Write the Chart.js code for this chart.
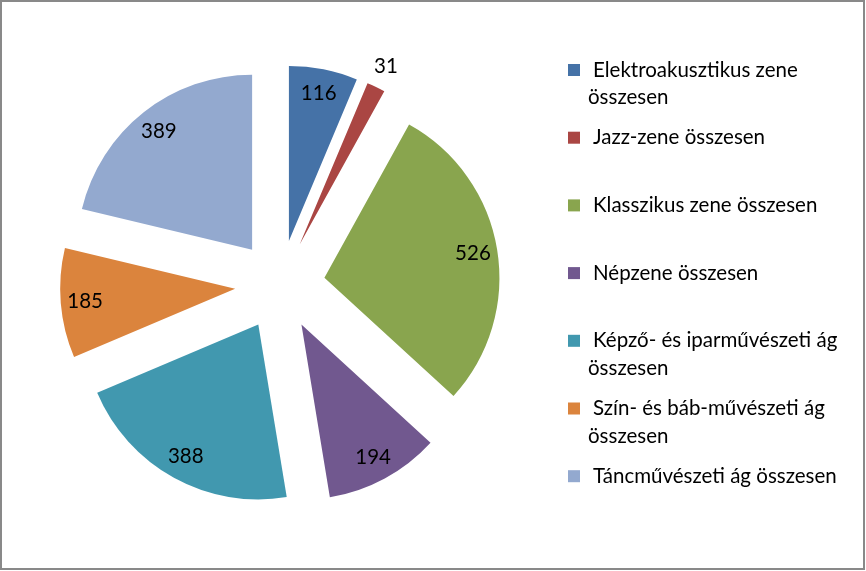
<!DOCTYPE html>
<html>
<head>
<meta charset="utf-8">
<title>Művészeti ágak összesen</title>
<script src="https://cdn.jsdelivr.net/npm/chart.js@4.4.1/dist/chart.umd.min.js"></script>
<style>
  html, body { margin: 0; padding: 0; background: #fff; }
  #wrap { width: 866px; height: 571px; }
</style>
</head>
<body>
<div id="wrap"><canvas id="pieChart" width="866" height="571"></canvas></div>
<script>
// Chart data
const categories = [
    'Elektroakusztikus zene összesen',
    'Jazz-zene összesen',
    'Klasszikus zene összesen',
    'Népzene összesen',
    'Képző- és iparművészeti ág összesen',
    'Szín- és báb-művészeti ág összesen',
    'Táncművészeti ág összesen'
];
const values = [116, 31, 526, 194, 388, 185, 389];
const sliceColors = ['#4572A7', '#AA4643', '#89A54E', '#71588F', '#4198AF', '#DB843D', '#93A9CF'];

// Look
const RADIUS = 175;
const EXPLODE = 45;          // px each slice is pulled out
const FONT = 'Lato, "Open Sans", sans-serif';

// Pull every slice out along its middle angle.
// (Chart.js' own offset also shrinks thin slices, so move the arcs instead)
const explode = {
    id: 'explode',
    beforeDatasetsDraw(chart) {
        const area = chart.chartArea;
        const cx = (area.left + area.right) / 2;
        const cy = (area.top + area.bottom) / 2;
        chart.getDatasetMeta(0).data.forEach(arc => {
            const mid = (arc.startAngle + arc.endAngle) / 2;
            arc.x = cx + Math.cos(mid) * EXPLODE;
            arc.y = cy + Math.sin(mid) * EXPLODE;
        });
    }
};

// Value labels inside the slices (small ones outside)
const valueLabels = {
    id: 'valueLabels',
    afterDatasetsDraw(chart) {
        const ctx = chart.ctx;
        const meta = chart.getDatasetMeta(0);
        const total = values.reduce((a, b) => a + b, 0);
        ctx.save();
        ctx.font = '20.5px ' + FONT;
        ctx.fillStyle = '#000';
        ctx.textAlign = 'center';
        ctx.textBaseline = 'middle';
        meta.data.forEach((arc, i) => {
            const mid = (arc.startAngle + arc.endAngle) / 2;
            const frac = values[i] / total < 0.03 ? 1.13 : 0.86;
            const dist = frac * arc.outerRadius;
            ctx.fillText(String(values[i]), arc.x + Math.cos(mid) * dist, arc.y + Math.sin(mid) * dist);
        });
        ctx.restore();
    }
};

// Legend on the right with wrapped labels, plus the outer frame
const sideLegend = {
    id: 'sideLegend',
    afterDraw(chart) {
        const ctx = chart.ctx;
        const boxX = 568, textX = 593, wrapX = 588;
        const firstY = 70, step = 67.7, lineH = 27.5, maxW = 262;
        ctx.save();
        ctx.font = '20.5px ' + FONT;
        ctx.textBaseline = 'middle';
        chart.data.labels.forEach((label, i) => {
            const y = firstY + i * step;
            ctx.fillStyle = chart.data.datasets[0].backgroundColor[i];
            ctx.fillRect(boxX, y - 6, 12, 12);
            ctx.fillStyle = '#000';
            // word wrap
            const words = label.split(' ');
            const lines = [];
            let cur = '';
            words.forEach(w => {
                const test = cur ? cur + ' ' + w : w;
                if (ctx.measureText(test).width > maxW && cur) {
                    lines.push(cur);
                    cur = w;
                } else {
                    cur = test;
                }
            });
            lines.push(cur);
            lines.forEach((ln, j) => {
                ctx.fillText(ln, j === 0 ? textX : wrapX, y + j * lineH);
            });
        });
        // frame
        ctx.strokeStyle = '#898989';
        ctx.lineWidth = 2;
        ctx.strokeRect(1, 1, chart.width - 3, chart.height - 3);
        ctx.restore();
    }
};

const pieChart = new Chart(document.getElementById('pieChart'), {
    type: 'pie',
    data: {
        labels: categories,
        datasets: [{
            data: values,
            backgroundColor: sliceColors,
            borderWidth: 0
        }]
    },
    options: {
        responsive: false,
        animation: false,
        devicePixelRatio: 1,
        radius: RADIUS,
        events: [],
        layout: { padding: { left: 0, right: 306, top: 0, bottom: 1 } },
        plugins: {
            legend: { display: false },
            tooltip: { enabled: false }
        }
    },
    plugins: [explode, valueLabels, sideLegend]
});
</script>
</body>
</html>
